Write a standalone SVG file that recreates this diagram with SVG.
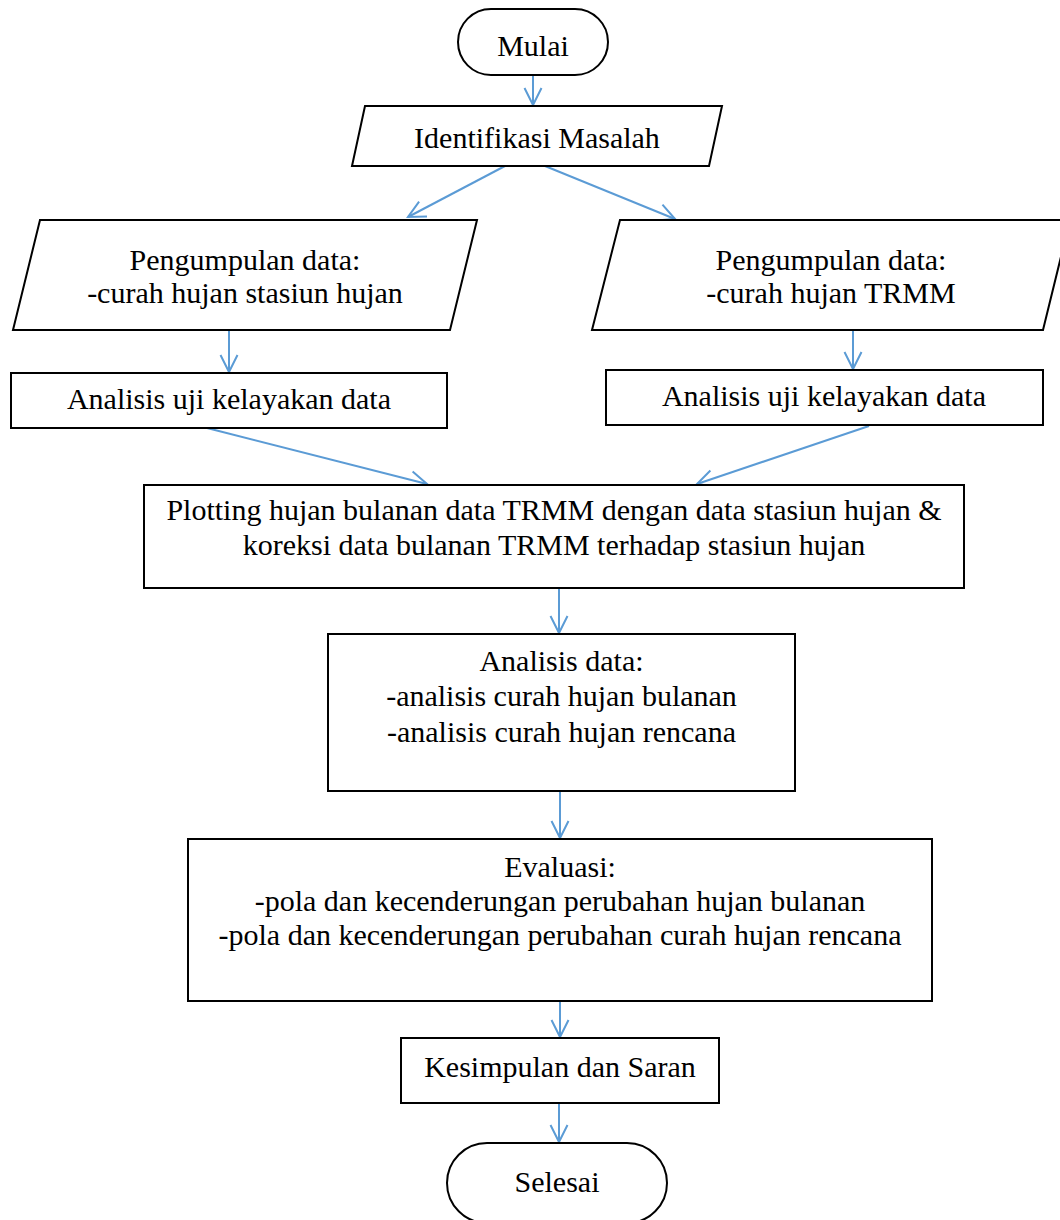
<svg xmlns="http://www.w3.org/2000/svg" width="1060" height="1220" viewBox="0 0 1060 1220">
<style>
.shape{fill:#fff;stroke:#000;stroke-width:2}
.t{font-family:"Liberation Serif","Times New Roman",serif;font-size:30px;fill:#000;text-anchor:middle}
.c{fill:none;stroke:#5B9BD5;stroke-width:2;marker-end:url(#arr)}
</style>
<defs>
<marker id="arr" markerUnits="userSpaceOnUse" markerWidth="24" markerHeight="24" viewBox="-20 -12 24 24" refX="0" refY="0" orient="auto">
<path d="M-17,-8.5 L0,0 L-17,8.5" fill="none" stroke="#5B9BD5" stroke-width="2"/>
</marker>
</defs>
<rect width="1060" height="1220" fill="#fff"/>
<g id="connectors">
<line class="c" x1="533" y1="75" x2="533" y2="105"/>
<line class="c" x1="505" y1="166" x2="408" y2="217"/>
<line class="c" x1="545" y1="166" x2="675" y2="219"/>
<line class="c" x1="229" y1="330" x2="229" y2="372"/>
<line class="c" x1="853" y1="330" x2="853" y2="369"/>
<line class="c" x1="207" y1="428" x2="427" y2="484"/>
<line class="c" x1="869" y1="426" x2="697" y2="484"/>
<line class="c" x1="559" y1="588" x2="559" y2="633"/>
<line class="c" x1="560" y1="791" x2="560" y2="838"/>
<line class="c" x1="560" y1="1001" x2="560" y2="1037"/>
<line class="c" x1="559" y1="1103" x2="559" y2="1142"/>
</g>
<g id="mulai">
<rect class="shape" x="458" y="9" width="150" height="66" rx="33" ry="33"/>
<text class="t" x="533" y="56">Mulai</text>
</g>
<g id="identifikasi">
<polygon class="shape" points="365,106 722,106 709,166 352,166"/>
<text class="t" x="537" y="148">Identifikasi Masalah</text>
</g>
<g id="pengumpulan-stasiun">
<polygon class="shape" points="40,220 477,220 450,330 13,330"/>
<text class="t" x="245" y="270">Pengumpulan data:</text>
<text class="t" x="245" y="303">-curah hujan stasiun hujan</text>
</g>
<g id="pengumpulan-trmm">
<polygon class="shape" points="620,220 1070,220 1043,330 592,330"/>
<text class="t" x="831" y="270">Pengumpulan data:</text>
<text class="t" x="831" y="303">-curah hujan TRMM</text>
</g>
<g id="uji-stasiun">
<rect class="shape" x="11" y="373" width="436" height="55"/>
<text class="t" x="229" y="409">Analisis uji kelayakan data</text>
</g>
<g id="uji-trmm">
<rect class="shape" x="606" y="370" width="437" height="55"/>
<text class="t" x="824" y="406">Analisis uji kelayakan data</text>
</g>
<g id="plotting">
<rect class="shape" x="144" y="485" width="820" height="103"/>
<text class="t" x="554" y="520">Plotting hujan bulanan data TRMM dengan data stasiun hujan &amp;</text>
<text class="t" x="554" y="555">koreksi data bulanan TRMM terhadap stasiun hujan</text>
</g>
<g id="analisis-data">
<rect class="shape" x="328" y="634" width="467" height="157"/>
<text class="t" x="561.5" y="671">Analisis data:</text>
<text class="t" x="561.5" y="706">-analisis curah hujan bulanan</text>
<text class="t" x="561.5" y="742">-analisis curah hujan rencana</text>
</g>
<g id="evaluasi">
<rect class="shape" x="188" y="839" width="744" height="162"/>
<text class="t" x="560" y="877">Evaluasi:</text>
<text class="t" x="560" y="911">-pola dan kecenderungan perubahan hujan bulanan</text>
<text class="t" x="560" y="945">-pola dan kecenderungan perubahan curah hujan rencana</text>
</g>
<g id="kesimpulan">
<rect class="shape" x="401" y="1038" width="318" height="65"/>
<text class="t" x="560" y="1077">Kesimpulan dan Saran</text>
</g>
<g id="selesai">
<rect class="shape" x="447" y="1143" width="220" height="80" rx="40" ry="40"/>
<text class="t" x="557" y="1192">Selesai</text>
</g>
</svg>
